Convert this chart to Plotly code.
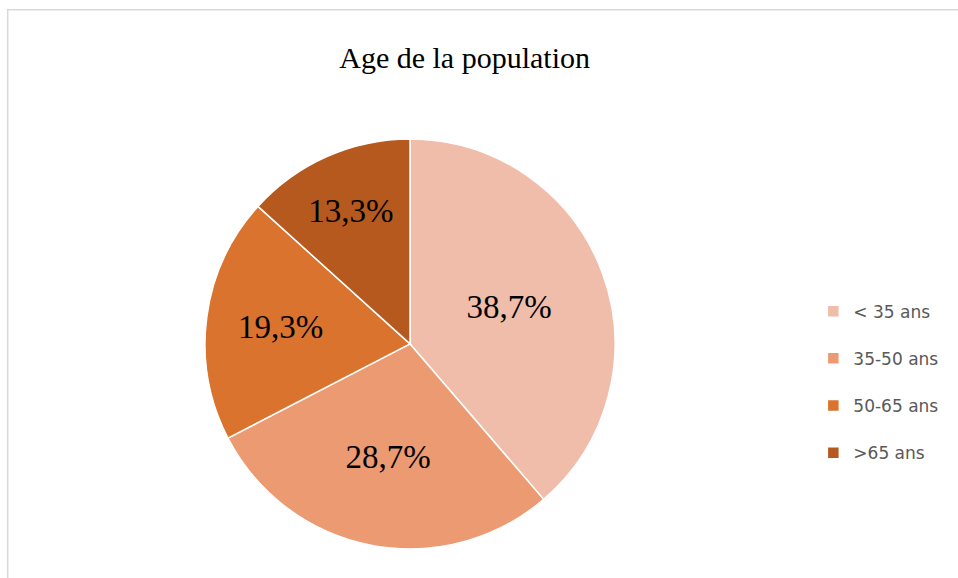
import plotly.graph_objects as go

# Data
labels = ["< 35 ans", "35-50 ans", "50-65 ans", ">65 ans"]
shares = [38.7, 28.7, 19.3, 13.3]
colors = ["#F0BDAB", "#EC9A72", "#DA732E", "#B6591E"]

# a blank second line gives the legend entries the wide spacing of the original
legend_labels = [lab + "<br> " for lab in labels]

fig = go.Figure(go.Pie(
    labels=legend_labels,
    values=shares,
    customdata=labels,
    sort=False,
    direction="clockwise",
    rotation=0,
    marker=dict(colors=colors, line=dict(color="#FFFFFF", width=1.5)),
    texttemplate="%{value:.1f}%",
    textposition="inside",
    insidetextorientation="horizontal",
    textfont=dict(family="Liberation Serif", size=33, color="#000000"),
    domain=dict(x=[0.214, 0.642], y=[0.05, 0.76]),
    hovertemplate="%{customdata}: %{value:.1f}%<extra></extra>",
))

fig.update_layout(
    width=958,
    height=578,
    separators=", ",
    paper_bgcolor="#FFFFFF",
    plot_bgcolor="#FFFFFF",
    margin=dict(l=0, r=0, t=0, b=0),
    title=dict(
        text="Age de la population",
        font=dict(family="Liberation Serif", size=30, color="#000000"),
        x=0.485, xanchor="center", y=0.9, yanchor="middle",
    ),
    legend=dict(
        x=0.849, xanchor="left", y=0.492, yanchor="top",
        font=dict(family="DejaVu Sans", size=17, color="#595959"),
        bgcolor="rgba(0,0,0,0)",
        valign="top",
    ),
    shapes=[dict(
        type="rect", xref="paper", yref="paper",
        x0=0.008, y0=-0.02, x1=1.02, y1=0.983,
        line=dict(color="#D9D9D9", width=1.5),
    )],
)

fig.write_html(
    "out.html",
    config={"displayModeBar": False},
    post_script="document.body.style.margin = '0';",
)
